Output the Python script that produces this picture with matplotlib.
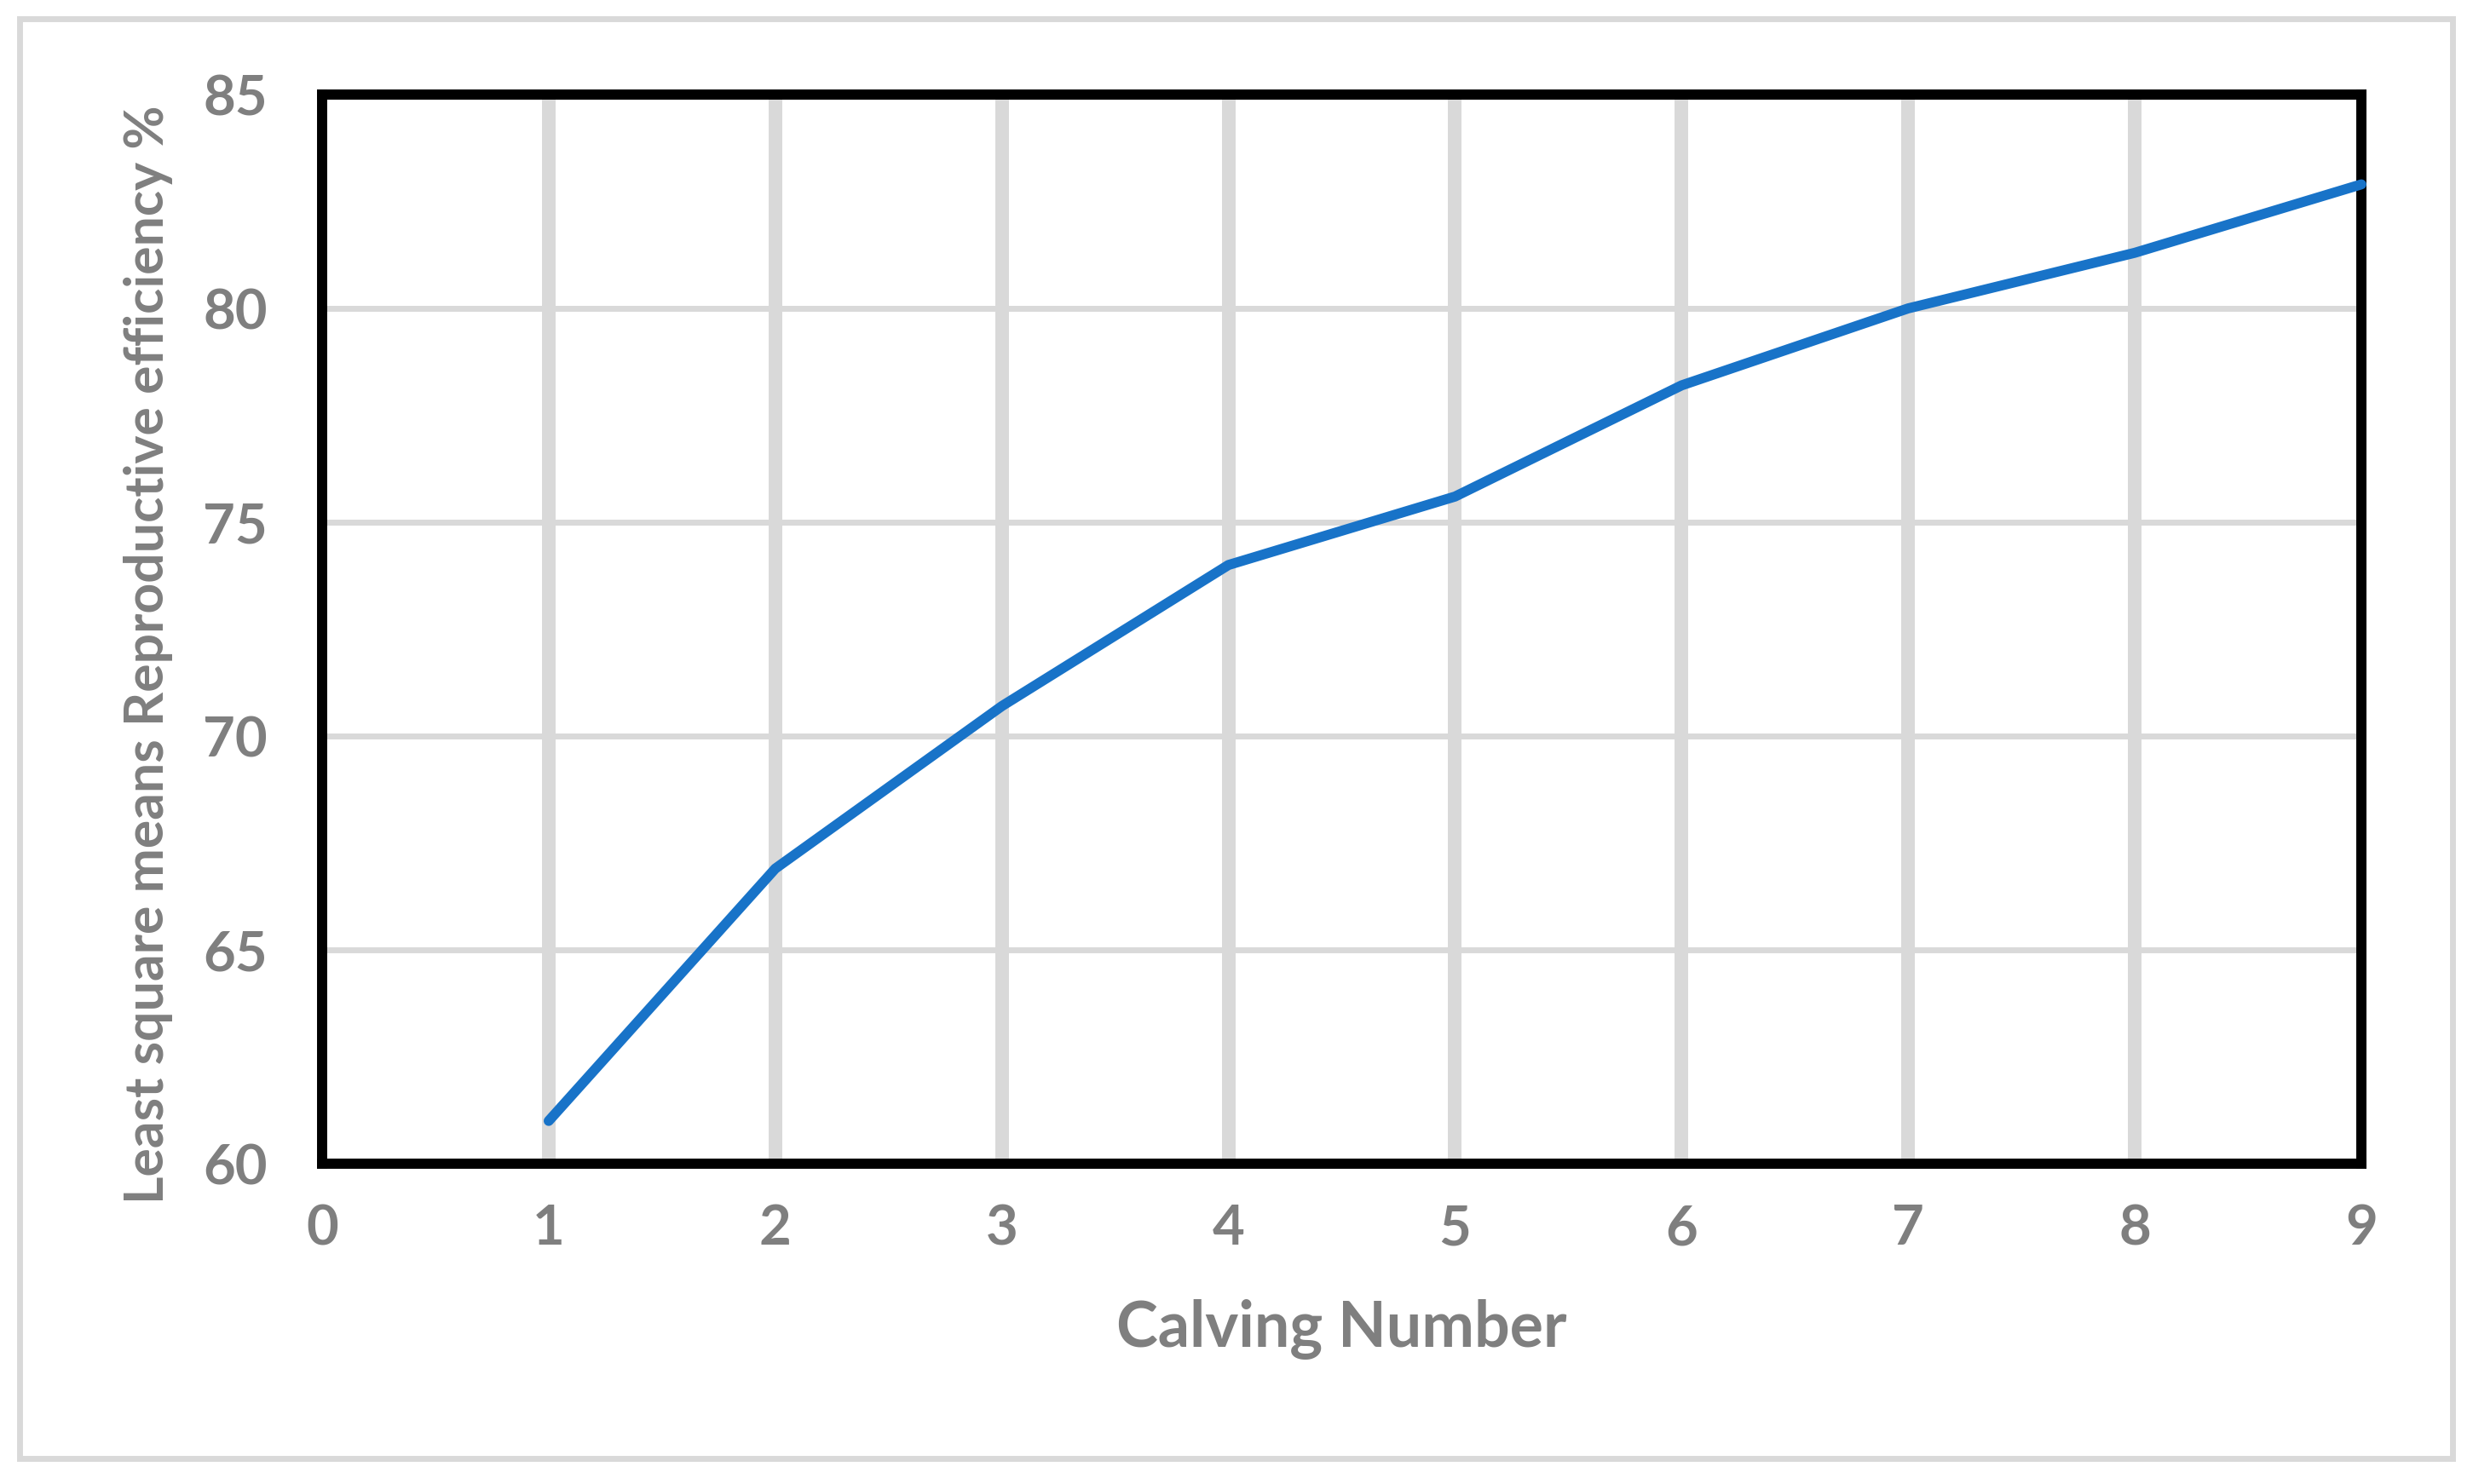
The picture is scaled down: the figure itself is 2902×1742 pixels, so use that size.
import matplotlib
matplotlib.use("Agg")
import matplotlib.pyplot as plt
from matplotlib.patches import Rectangle

calving = [1, 2, 3, 4, 5, 6, 7, 8, 9]
efficiency = [61.0, 66.9, 70.7, 74.0, 75.6, 78.2, 80.0, 81.3, 82.9]
x_ticks = [0, 1, 2, 3, 4, 5, 6, 7, 8, 9]
y_ticks = [60, 65, 70, 75, 80, 85]

plt.rcParams['font.family'] = ['Lato', 'DejaVu Sans']

W, H = 2902, 1742
fig = plt.figure(figsize=(W / 100, H / 100), dpi=100)
ax = fig.add_axes([378 / W, 1 - 1366 / H, (2771 - 378) / W, (1366 - 111) / H])

grey = '#7f7f7f'
gridc = '#d9d9d9'

ax.set_xlim(0, 9)
ax.set_ylim(60, 85)
ax.set_xticks(x_ticks)
ax.set_yticks(y_ticks)

for xv in x_ticks[1:-1]:
    ax.axvline(xv, color=gridc, lw=11.5, zorder=1)
for yv in y_ticks[1:-1]:
    ax.axhline(yv, color=gridc, lw=5, zorder=1)

ax.plot(calving, efficiency, color='#1873c8', lw=8.5, solid_capstyle='round',
        solid_joinstyle='round', zorder=5, clip_on=False)

for s in ax.spines.values():
    s.set_linewidth(8.6)
    s.set_color('black')
    s.set_zorder(4)

ax.tick_params(axis='both', length=0, labelsize=47, labelcolor=grey)
ax.tick_params(axis='x', pad=34)
ax.tick_params(axis='y', pad=46)
for lab in ax.get_xticklabels() + ax.get_yticklabels():
    lab.set_fontweight('bold')

ax.set_xlabel('Calving Number', fontsize=53, fontweight='bold', color=grey, labelpad=38)
ax.set_ylabel('Least square means Reproductive efficiency %', fontsize=45,
              fontweight='bold', color=grey, labelpad=24)
ax.yaxis.set_label_coords(-0.073, 0.476)

fig.patches.append(Rectangle((23 / W, 1 - 1712 / H), (2878 - 23) / W, (1712 - 22) / H,
                             transform=fig.transFigure, fill=False, edgecolor=gridc,
                             lw=5, zorder=0))

fig.savefig('out.png', dpi=100)
